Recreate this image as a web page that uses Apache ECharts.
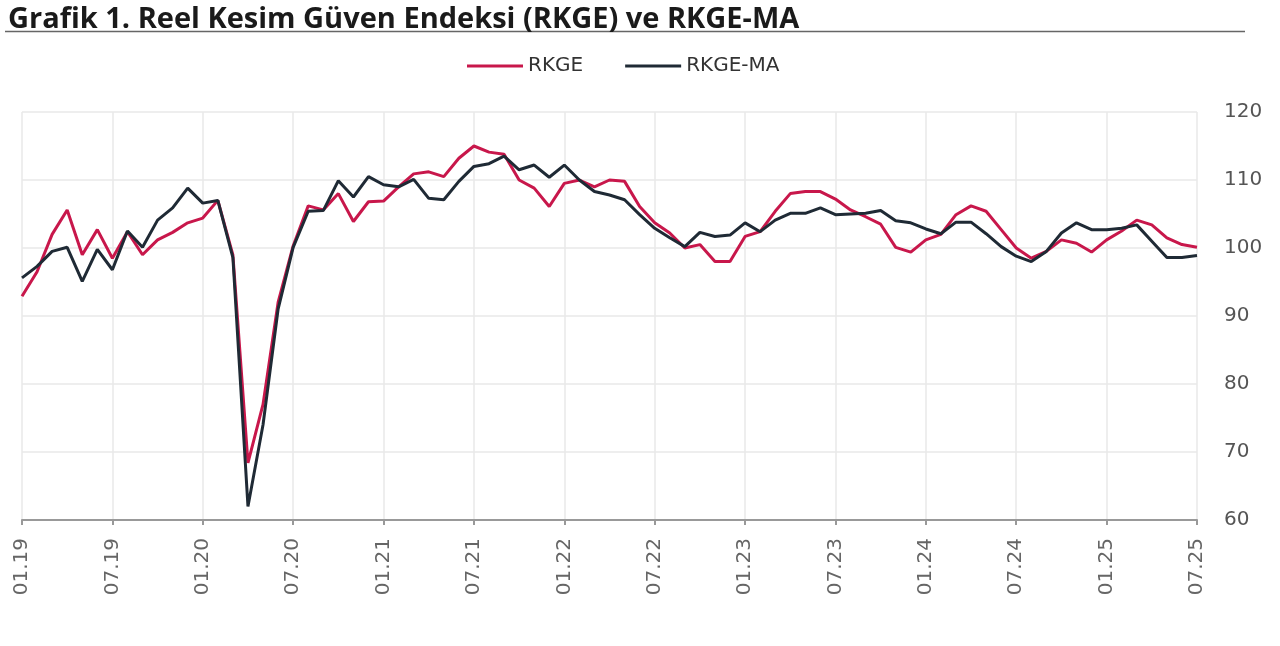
<!DOCTYPE html>
<html>
<head>
<meta charset="utf-8">
<script src="https://cdn.jsdelivr.net/npm/echarts@6/dist/echarts.min.js"></script>
<style>
html,body{margin:0;padding:0;background:#fff;}
#chart{width:1280px;height:646px;}
</style>
</head>
<body>
<div id="chart"></div>
<script>
const months = [
'01.19','02.19','03.19','04.19','05.19','06.19','07.19','08.19','09.19','10.19','11.19','12.19',
'01.20','02.20','03.20','04.20','05.20','06.20','07.20','08.20','09.20','10.20','11.20','12.20',
'01.21','02.21','03.21','04.21','05.21','06.21','07.21','08.21','09.21','10.21','11.21','12.21',
'01.22','02.22','03.22','04.22','05.22','06.22','07.22','08.22','09.22','10.22','11.22','12.22',
'01.23','02.23','03.23','04.23','05.23','06.23','07.23','08.23','09.23','10.23','11.23','12.23',
'01.24','02.24','03.24','04.24','05.24','06.24','07.24','08.24','09.24','10.24','11.24','12.24',
'01.25','02.25','03.25','04.25','05.25','06.25','07.25'
];
const rkge = [
92.9,96.5,102,105.6,99,102.7,98.5,102.4,99,101.2,102.3,103.7,
104.4,107,99,68.4,77,92,100.3,106.2,105.6,108,103.9,106.8,
106.9,109,110.9,111.2,110.5,113.2,115,114.1,113.8,110,108.8,106.1,
109.5,110,109,110,109.8,106.1,103.7,102.2,100,100.5,98,98,
101.7,102.4,105.4,108,108.3,108.3,107.2,105.6,104.6,103.5,100.1,99.4,
101.2,102,104.9,106.2,105.4,102.7,100,98.5,99.5,101.2,100.7,99.4,
101.2,102.5,104.1,103.4,101.5,100.5,100.1
];
const rkgeMA = [
95.6,97.3,99.5,100.1,95.1,99.8,96.8,102.5,100.1,104.1,105.9,108.8,
106.6,107,98.6,62,74,91,100.1,105.4,105.5,109.9,107.5,110.5,
109.3,109,110.1,107.3,107.1,109.8,112,112.4,113.5,111.5,112.2,110.4,
112.2,110,108.3,107.8,107.1,104.9,102.9,101.5,100.2,102.3,101.7,101.9,
103.7,102.4,104.1,105.1,105.1,105.9,104.9,105,105.1,105.5,104,103.7,
102.8,102.1,103.8,103.8,102.1,100.2,98.8,98,99.5,102.2,103.7,102.7,
102.7,102.9,103.4,101,98.6,98.6,98.9
];
const seriesNames = ['RKGE','RKGE-MA'];
const colors = ['#c8174b','#1f2a35'];

const chart = echarts.init(document.getElementById('chart'));
chart.setOption({
  animation:false,
  backgroundColor:'#fff',
  title:{
    text:'Grafik 1. Reel Kesim Güven Endeksi (RKGE) ve RKGE-MA',
    left:3, top:0,
    textStyle:{fontFamily:'Open Sans',fontWeight:'bold',fontSize:29,color:'#1a1a1a'}
  },
  graphic:[{
    type:'line',
    shape:{x1:5,y1:31.5,x2:1245,y2:31.5},
    style:{stroke:'#666',lineWidth:1.5}
  }],
  legend:{
    data:seriesNames,
    left:462, top:51,
    icon:'rect', itemWidth:56, itemHeight:3, itemGap:42,
    textStyle:{fontFamily:'DejaVu Sans',fontSize:20,color:'#333'}
  },
  grid:{left:22,right:83,top:112,bottom:126},
  xAxis:{
    type:'category',
    data:months,
    boundaryGap:false,
    axisLine:{lineStyle:{color:'#999',width:2}},
    axisTick:{show:true,interval:5,length:5,lineStyle:{color:'#999',width:2}},
    axisLabel:{interval:5,rotate:90,margin:18,fontFamily:'DejaVu Sans',fontSize:20,color:'#666'},
    splitLine:{show:true,interval:5,lineStyle:{color:'#e8e8e8',width:1.5}}
  },
  yAxis:{
    type:'value',
    position:'right',
    min:60,max:120,interval:10,
    axisLine:{show:false},
    axisTick:{show:false},
    axisLabel:{margin:27,fontFamily:'DejaVu Sans',fontSize:20,color:'#555'},
    splitLine:{lineStyle:{color:'#e8e8e8',width:1.5}}
  },
  series:[
    {name:seriesNames[0],type:'line',data:rkge,symbol:'none',lineStyle:{width:3,color:colors[0]},itemStyle:{color:colors[0]}},
    {name:seriesNames[1],type:'line',data:rkgeMA,symbol:'none',lineStyle:{width:3,color:colors[1]},itemStyle:{color:colors[1]}}
  ]
});
</script>
</body>
</html>
